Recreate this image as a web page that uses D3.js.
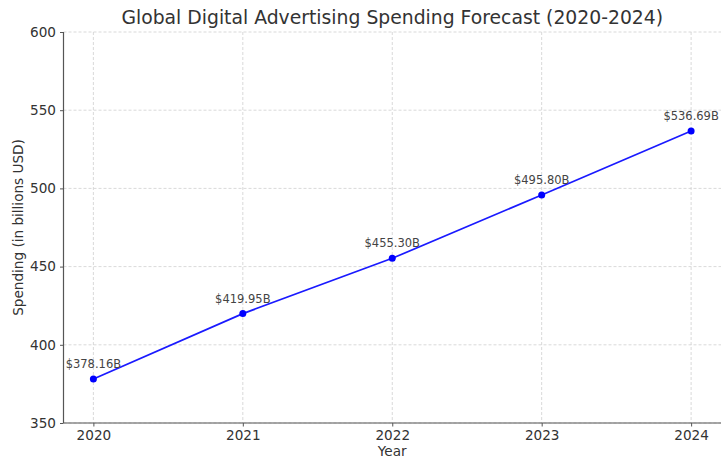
<!DOCTYPE html>
<html><head><meta charset="utf-8">
<script src="https://cdn.jsdelivr.net/npm/d3@7"></script>
<style>body{margin:0;background:#fff}svg{display:block;font-family:"DejaVu Sans",sans-serif}</style>
</head><body><svg id="c" width="721" height="459"></svg>
<script>
const years = [2020, 2021, 2022, 2023, 2024];
const spending = [378.16, 419.95, 455.30, 495.80, 536.69];
const yTicks = [350, 400, 450, 500, 550, 600];
const title = "Global Digital Advertising Spending Forecast (2020-2024)";
const xLabel = "Year";
const yLabel = "Spending (in billions USD)";

const svg = d3.select("#c");
const L = 63.5, R = 721, T = 32, B = 423;
const x = d3.scaleLinear().domain([2019.8, 2024.2]).range([L, R]);
const y = d3.scaleLinear().domain([350, 600]).range([B, T]);

// grid
svg.append("g").selectAll("line").data(yTicks).join("line")
  .attr("x1", L).attr("x2", R).attr("y1", d => y(d)).attr("y2", d => y(d))
  .attr("stroke", "#cfcfcf").attr("stroke-width", 0.8).attr("stroke-dasharray", "3,2");
svg.append("g").selectAll("line").data(years).join("line")
  .attr("x1", d => x(d)).attr("x2", d => x(d)).attr("y1", T).attr("y2", B)
  .attr("stroke", "#cfcfcf").attr("stroke-width", 0.8).attr("stroke-dasharray", "3,2");

// axes
const xAxis = d3.axisBottom(x).tickValues(years).tickFormat(d3.format("d")).tickSize(3.5).tickPadding(4);
const yAxis = d3.axisLeft(y).tickValues(yTicks).tickSize(3.5).tickPadding(4);
const gx = svg.append("g").attr("transform", `translate(0,${B})`).call(xAxis);
const gy = svg.append("g").attr("transform", `translate(${L},0)`).call(yAxis);
[gx, gy].forEach(g => {
  g.select(".domain").attr("stroke", "#555").attr("stroke-width", 1.2);
  g.selectAll(".tick line").attr("stroke", "#555");
  g.selectAll(".tick text").attr("fill", "#333").style("font-size", "13.6px").style("font-family", "DejaVu Sans");
});
gx.select(".domain").attr("d", `M${L},0H${R}`);
gy.select(".domain").attr("d", `M0,${B}V${T}`);

// line
const line = d3.line().x((d, i) => x(years[i])).y(d => y(d));
svg.append("path").datum(spending).attr("d", line)
  .attr("fill", "none").attr("stroke", "#1a1aff").attr("stroke-width", 1.7);
svg.append("g").selectAll("circle").data(spending).join("circle")
  .attr("cx", (d, i) => x(years[i])).attr("cy", d => y(d)).attr("r", 3.5).attr("fill", "#0000ff");

// labels
svg.append("g").selectAll("text").data(spending).join("text")
  .attr("x", (d, i) => x(years[i])).attr("y", d => y(d) - 11)
  .attr("text-anchor", "middle").attr("fill", "#444").style("font-size", "11.5px")
  .text(d => "$" + d.toFixed(2) + "B");

// titles
svg.append("text").attr("x", (L + R) / 2).attr("y", 24).attr("text-anchor", "middle")
  .attr("fill", "#333").style("font-size", "18.8px").text(title);
svg.append("text").attr("x", (L + R) / 2).attr("y", 456).attr("text-anchor", "middle")
  .attr("fill", "#333").style("font-size", "13.6px").text(xLabel);
svg.append("text").attr("transform", `translate(23,${(T + B) / 2}) rotate(-90)`).attr("text-anchor", "middle")
  .attr("fill", "#333").style("font-size", "13.6px").text(yLabel);
</script></body></html>
